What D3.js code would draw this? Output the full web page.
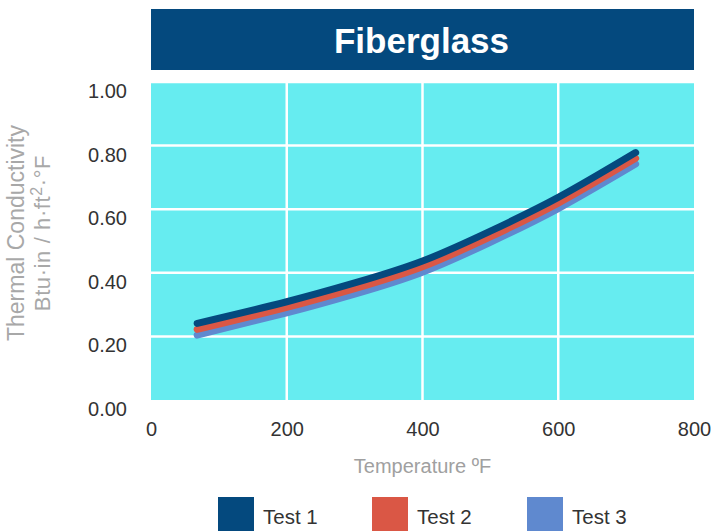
<!DOCTYPE html>
<html>
<head>
<meta charset="utf-8">
<script src="https://cdn.jsdelivr.net/npm/d3@7/dist/d3.min.js"></script>
<style>
  html, body { margin: 0; padding: 0; background: #fff; }
  svg { display: block; font-family: "Liberation Sans", Arial, Helvetica, sans-serif; }
</style>
</head>
<body>
<svg id="chart" width="717" height="531"></svg>
<script>
// ---- data ----
const title = "Fiberglass";
const seriesNames = ["Test 1", "Test 2", "Test 3"];
const seriesColors = ["#04497e", "#da5745", "#5f89cf"];
const temperatures = [68, 200, 300, 400, 500, 600, 714];
const test1 = [0.241, 0.309, 0.368, 0.437, 0.531, 0.637, 0.778];
const test2 = [0.222, 0.291, 0.350, 0.419, 0.513, 0.619, 0.760];
const test3 = [0.204, 0.274, 0.333, 0.402, 0.496, 0.602, 0.742];
const xTicks = [0, 200, 400, 600, 800];
const yTicks = [0, 0.2, 0.4, 0.6, 0.8, 1.0];
const xTitle = "Temperature ºF";
const yTitle1 = "Thermal Conductivity";
const yTitle2Parts = ["Btu·in / h·ft", "2", "·°F"];

const svg = d3.select("#chart");
const plot = { left: 151, right: 694, top: 82, bottom: 400 };

const x = d3.scaleLinear().domain([0, 800]).range([plot.left, plot.right]);
const y = d3.scaleLinear().domain([0, 1]).range([plot.bottom, plot.top]);

// title banner
svg.append("rect")
  .attr("x", plot.left).attr("y", 9)
  .attr("width", plot.right - plot.left).attr("height", 61)
  .attr("fill", "#04497e");
svg.append("text")
  .attr("x", (plot.left + plot.right) / 2 - 1).attr("y", 53)
  .attr("text-anchor", "middle")
  .attr("fill", "#fff").attr("font-size", 35).attr("font-weight", "bold")
  .text(title);

// plot background
svg.append("rect")
  .attr("x", plot.left).attr("y", plot.top)
  .attr("width", plot.right - plot.left).attr("height", plot.bottom - plot.top)
  .attr("fill", "#66ecf0");

// gridlines
const g = svg.append("g");
g.selectAll(".hg").data(yTicks.filter(d => d > 0)).enter().append("line")
  .attr("x1", plot.left).attr("x2", plot.right)
  .attr("y1", d => y(d)).attr("y2", d => y(d))
  .attr("stroke", "#fff").attr("stroke-width", 2.5);
g.selectAll(".vg").data(xTicks.filter(d => d > 0 && d < 800)).enter().append("line")
  .attr("y1", plot.top).attr("y2", plot.bottom)
  .attr("x1", d => x(d)).attr("x2", d => x(d))
  .attr("stroke", "#fff").attr("stroke-width", 2.5);

// axes (labels only)
const yAxis = d3.axisLeft(y).tickValues(yTicks).tickFormat(d3.format(".2f")).tickSize(0).tickPadding(24);
const ya = svg.append("g").attr("transform", `translate(${plot.left},9)`).call(yAxis);
ya.select(".domain").remove();
ya.selectAll("text").attr("font-size", 20).attr("fill", "#333")
  .attr("font-family", "'Liberation Sans', Arial, sans-serif");

const xAxis = d3.axisBottom(x).tickValues(xTicks).tickFormat(d3.format("d")).tickSize(0).tickPadding(22);
const xa = svg.append("g").attr("transform", `translate(0,${plot.bottom})`).call(xAxis);
xa.select(".domain").remove();
xa.selectAll("text").attr("font-size", 20).attr("fill", "#333")
  .attr("font-family", "'Liberation Sans', Arial, sans-serif");

// axis titles
svg.append("text")
  .attr("x", (plot.left + plot.right) / 2).attr("y", 473)
  .attr("text-anchor", "middle").attr("font-size", 20).attr("fill", "#a0a0a0")
  .text(xTitle);
svg.append("text")
  .attr("transform", "translate(24,233) rotate(-90)")
  .attr("text-anchor", "middle").attr("font-size", 23).attr("fill", "#a8a8a8")
  .text(yTitle1);
const yt2 = svg.append("text")
  .attr("transform", "translate(50,233) rotate(-90)")
  .attr("text-anchor", "middle").attr("font-size", 22).attr("fill", "#a8a8a8")
  .attr("letter-spacing", 0.6);
yt2.append("tspan").text(yTitle2Parts[0]);
yt2.append("tspan").attr("dy", -8).attr("font-size", 16).text(yTitle2Parts[1]);
yt2.append("tspan").attr("dy", 8).text(yTitle2Parts[2]);

// lines
const allSeries = [test1, test2, test3];
const line = d3.line()
  .x((d, i) => x(temperatures[i]))
  .y(d => y(d))
  .curve(d3.curveNatural);
[2, 1, 0].forEach(k => {
  svg.append("path")
    .datum(allSeries[k])
    .attr("d", line)
    .attr("fill", "none")
    .attr("stroke", seriesColors[k])
    .attr("stroke-width", 7)
    .attr("stroke-linecap", "round")
    .attr("stroke-linejoin", "round");
});

// legend
const legendX = [218, 372, 527];
const lg = svg.append("g");
seriesNames.forEach((name, i) => {
  lg.append("rect")
    .attr("x", legendX[i]).attr("y", 497)
    .attr("width", 36).attr("height", 36)
    .attr("fill", seriesColors[i]);
  lg.append("text")
    .attr("x", legendX[i] + 45).attr("y", 524)
    .attr("font-size", 20.5).attr("fill", "#333")
    .text(name);
});
</script>
</body>
</html>
